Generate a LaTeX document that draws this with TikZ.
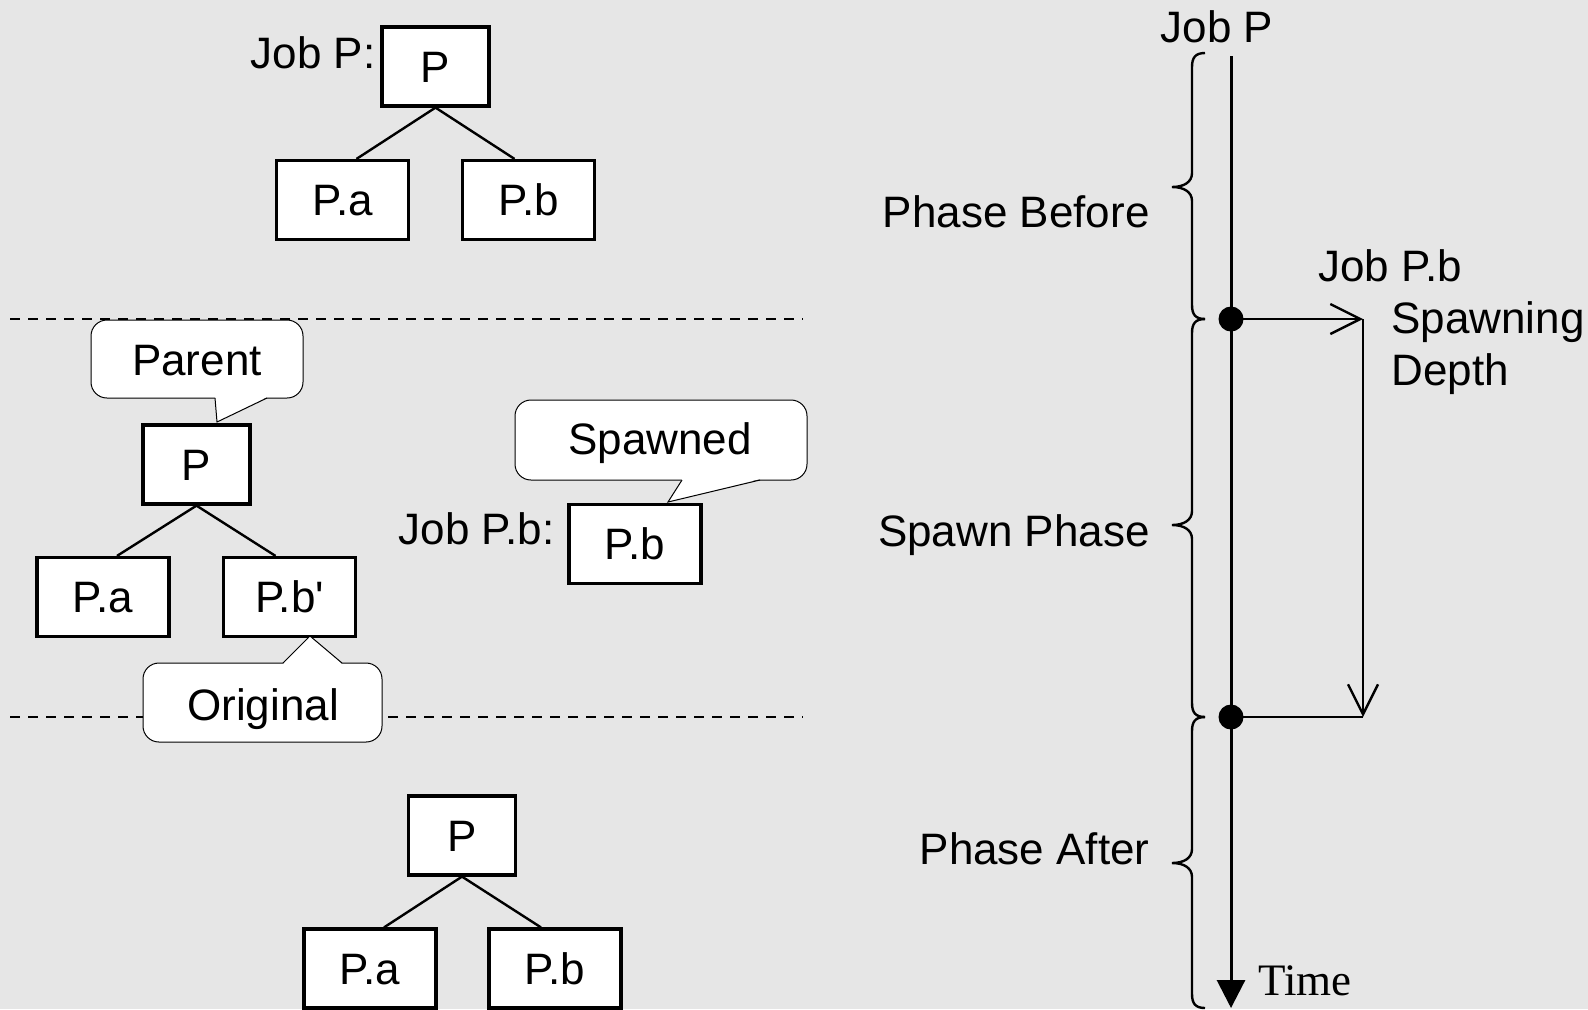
\documentclass[tikz,border=0pt]{standalone}
\usepackage{fontspec}
\setmainfont{Liberation Sans}
\newfontfamily\timefont{Liberation Serif}
\usetikzlibrary{arrows.meta,calc}
\definecolor{bg}{RGB}{230,230,230}
\newcommand\phasebrace[3]{% top, middle, bottom
  \draw[bracestyle] (1205,#1) .. controls (1195,#1) and (1192,#1+5) .. (1192,#1+14)
    -- (1192,#2-14) .. controls (1192,#2-5) and (1184,#2) .. (1172,#2)
    .. controls (1184,#2) and (1192,#2+5) .. (1192,#2+14)
    -- (1192,#3-14) .. controls (1192,#3-5) and (1195,#3) .. (1205,#3);}
\begin{document}
\begin{tikzpicture}[x=0.5pt,y=-0.5pt,
  lbl/.style={font=\fontsize{22}{26}\selectfont, inner sep=0pt},
  jobbox/.style={draw, line width=1.6pt, fill=white, inner sep=0pt,
    minimum height=39.5pt, font=\fontsize{22}{26}\selectfont,
    text height=15.5pt, text depth=0pt},
  pbox/.style={jobbox, minimum width=53.5pt},
  cbox/.style={jobbox, minimum width=66pt},
  edge/.style={line width=1.2pt},
  divider/.style={line width=1.3pt, dash pattern=on 5pt off 4pt},
  callout/.style={draw, fill=white, line width=0.5pt},
  bracestyle/.style={line width=1.2pt},
  spawnarrow/.style={line width=1.2pt, -{Straight Barb[length=15pt,width=15pt,line width=1.2pt]}},
  event/.style={circle, fill=black, inner sep=0pt, minimum size=12.5pt},
]
% canvas
\fill[bg] (0,0) rectangle (1588,1009);
\useasboundingbox (0,0) rectangle (1588,1009);

% ---- before: job P with two children
\node[pbox] (pT) at (435.5,66.5) {P};
\node[cbox] (paT) at (342.5,200) {P.a};
\node[cbox] (pbT) at (528.5,200) {P.b};
\node[lbl, anchor=base east] (jobPlbl) at (376,68) {Job P:};
\draw[edge] (pT.south) -- ($(paT.north)+(14,0)$);
\draw[edge] (pT.south) -- ($(pbT.north)+(-14,0)$);

% ---- phase separators
\draw[divider] (10,319) -- (803,319);
\draw[divider] (10,717) -- (803,717);

% ---- spawn: parent keeps P.b', P.b becomes its own job
\node[pbox] (pM) at (196.5,464.5) {P};
\node[cbox] (paM) at (103,597) {P.a};
\node[cbox] (pbM) at (289.5,597) {P.b\textquotesingle};
\draw[edge] (pM.south) -- ($(paM.north)+(14,0)$);
\draw[edge] (pM.south) -- ($(pbM.north)+(-14,0)$);

\node[cbox] (pbJ) at (635,544) {P.b};
\node[lbl, anchor=base east] (jobPblbl) at (555,544) {Job P.b:};

% callout: Parent
\draw[callout, rounded corners=8pt] (91,320) rectangle (303,398);
\fill[white] (215,397) -- (267,397) -- (217,422) -- cycle;
\draw[line width=0.5pt] (215,398) -- (217,422) -- (267,398);
\node[lbl] (parentTxt) at (197,361) {Parent};

% callout: Spawned
\draw[callout, rounded corners=8pt] (515,400) rectangle (807,480);
\fill[white] (682,479) -- (760,479) -- (668,502) -- cycle;
\draw[line width=0.5pt] (682,480) -- (668,502) -- (760,480);
\node[lbl] (spawnedTxt) at (660,443) {Spawned};

% callout: Original
\draw[callout, rounded corners=8pt] (143,663) rectangle (382,742);
\fill[white] (283,664) -- (342,664) -- (310,636) -- cycle;
\draw[line width=0.5pt] (283,663) -- (310,636) -- (342,663);
\node[lbl] (originalTxt) at (263,709) {Original};

% ---- after: job P with two children again
\node[pbox] (pB) at (462,835.5) {P};
\node[cbox] (paB) at (370,968.5) {P.a};
\node[cbox] (pbB) at (555,968.5) {P.b};
\draw[edge] (pB.south) -- ($(paB.north)+(14,0)$);
\draw[edge] (pB.south) -- ($(pbB.north)+(-14,0)$);

% ---- time line
\node[lbl, anchor=base] (jobPtop) at (1217,42) {Job P};
\coordinate (tStart) at (1231,56);
\coordinate (tEnd) at (1231,1008);
\draw[line width=1.5pt, -{Triangle[length=14pt,width=14pt]}] (tStart) -- (tEnd);
\node[anchor=base west, inner sep=0pt, font=\fontsize{22.5}{27}\timefont] (timeTxt) at (1258,995) {Time};

\node[event] (ev1) at (1231,319) {};
\node[event] (ev2) at (1231,717) {};
\coordinate (sp1) at (1363,319);
\coordinate (sp2) at (1363,717);
\draw[spawnarrow] (ev1.center) -- (sp1);
\draw[spawnarrow] (sp1) -- (sp2);
\draw[line width=1.2pt] (ev2.center) -- (sp2);

\node[lbl, anchor=base] (jobPbTop) at (1390,281) {Job P.b};
\node[lbl, anchor=base west] (spawnTxt) at (1391,333) {Spawning};
\node[lbl, anchor=base west] (depthTxt) at (1391,385) {Depth};

% ---- phases
\phasebrace{53}{187}{319}
\phasebrace{319}{525}{717}
\phasebrace{717}{863}{1008}
\node[lbl, anchor=base east] (phBefore) at (1150,227) {Phase Before};
\node[lbl, anchor=base east] (phSpawn) at (1150,546) {Spawn Phase};
\node[lbl, anchor=base east] (phAfter) at (1150,864) {Phase After};
\end{tikzpicture}
\end{document}
